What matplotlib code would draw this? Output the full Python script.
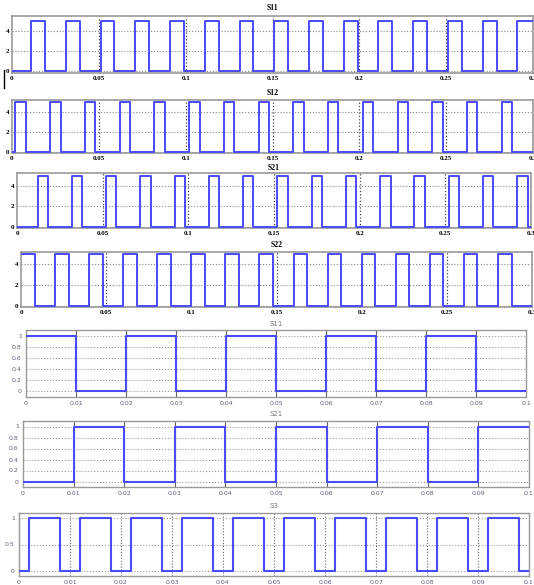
import numpy as np
import matplotlib.pyplot as plt
from matplotlib.lines import Line2D

# switching signals, edge times (s) and levels
s11_t = [0, 0.011, 0.019, 0.031, 0.039, 0.051, 0.059, 0.071, 0.079, 0.091, 0.099,
         0.111, 0.119, 0.131, 0.139, 0.151, 0.159, 0.171, 0.179, 0.191, 0.199,
         0.211, 0.219, 0.231, 0.239, 0.251, 0.259, 0.271, 0.279, 0.291, 0.3]
s11_v = [0, 5, 0, 5, 0, 5, 0, 5, 0, 5, 0, 5, 0, 5, 0, 5, 0, 5, 0, 5, 0,
         5, 0, 5, 0, 5, 0, 5, 0, 5, 5]

s12_t = [0, 0.002, 0.008, 0.022, 0.028, 0.042, 0.048, 0.062, 0.068, 0.082, 0.088,
         0.102, 0.108, 0.122, 0.128, 0.142, 0.148, 0.162, 0.168, 0.182, 0.188,
         0.202, 0.208, 0.222, 0.228, 0.242, 0.248, 0.262, 0.268, 0.282, 0.288, 0.3]
s12_v = [0, 5, 0, 5, 0, 5, 0, 5, 0, 5, 0, 5, 0, 5, 0, 5, 0, 5, 0, 5, 0,
         5, 0, 5, 0, 5, 0, 5, 0, 5, 0, 0]

s21_t = [0, 0.012, 0.018, 0.032, 0.038, 0.052, 0.058, 0.072, 0.078, 0.092, 0.098,
         0.112, 0.118, 0.132, 0.138, 0.152, 0.158, 0.172, 0.178, 0.192, 0.198,
         0.212, 0.218, 0.232, 0.238, 0.252, 0.258, 0.272, 0.278, 0.292, 0.298, 0.3]
s21_v = [0, 5, 0, 5, 0, 5, 0, 5, 0, 5, 0, 5, 0, 5, 0, 5, 0, 5, 0, 5, 0,
         5, 0, 5, 0, 5, 0, 5, 0, 5, 0, 0]

s22_t = [0, 0.008, 0.02, 0.028, 0.04, 0.048, 0.06, 0.068, 0.08, 0.088, 0.1,
         0.108, 0.12, 0.128, 0.14, 0.148, 0.16, 0.168, 0.18, 0.188, 0.2,
         0.208, 0.22, 0.228, 0.24, 0.248, 0.26, 0.268, 0.28, 0.288, 0.3]
s22_v = [5, 0, 5, 0, 5, 0, 5, 0, 5, 0, 5, 0, 5, 0, 5, 0, 5, 0, 5, 0, 5,
         0, 5, 0, 5, 0, 5, 0, 5, 0, 0]

# zoomed 0..0.1 s view
s11b_t = [0, 0.01, 0.02, 0.03, 0.04, 0.05, 0.06, 0.07, 0.08, 0.09, 0.1]
s11b_v = [1, 0, 1, 0, 1, 0, 1, 0, 1, 0, 0]
s21b_t = [0, 0.01, 0.02, 0.03, 0.04, 0.05, 0.06, 0.07, 0.08, 0.09, 0.1]
s21b_v = [0, 1, 0, 1, 0, 1, 0, 1, 0, 1, 1]
s3_t = [0, 0.002, 0.008, 0.012, 0.018, 0.022, 0.028, 0.032, 0.038, 0.042, 0.048,
        0.052, 0.058, 0.062, 0.068, 0.072, 0.078, 0.082, 0.088, 0.092, 0.098, 0.1]
s3_v = [0, 1, 0, 1, 0, 1, 0, 1, 0, 1, 0, 1, 0, 1, 0, 1, 0, 1, 0, 1, 0, 0]

top_xticks = [0, 0.05, 0.1, 0.15, 0.2, 0.25, 0.3]
top_xlabels = ['0', '0.05', '0.1', '0.15', '0.2', '0.25', '0.3']
top_yticks = [0, 2, 4]
bot_xticks = [0, 0.01, 0.02, 0.03, 0.04, 0.05, 0.06, 0.07, 0.08, 0.09, 0.1]
bot_xlabels = ['0', '0.01', '0.02', '0.03', '0.04', '0.05', '0.06', '0.07', '0.08', '0.09', '0.1']

W, H = 534, 585
fig = plt.figure(figsize=(W / 100, H / 100), dpi=100)


def box(l, r, t, b):
    return [l / W, 1 - b / H, (r - l) / W, (b - t) / H]


blue = '#4a4aff'

top = [
    ('S11', s11_t, s11_v, (12, 533, 16, 73), (-0.15, 5.45), 8),
    ('S12', s12_t, s12_v, (12, 533, 100, 153), (-0.13, 5.2), 93),
    ('S21', s21_t, s21_v, (17, 531, 173, 228), (-0.13, 5.25), 168),
    ('S22', s22_t, s22_v, (21, 532, 252, 307), (-0.13, 5.2), 245),
]
for name, t, v, pos, yl, ty in top:
    ax = fig.add_axes(box(*pos))
    ax.step(t, v, where='post', color=blue, lw=1.4, zorder=5)
    ax.set_xlim(0, 0.3)
    ax.set_ylim(*yl)
    ax.set_xticks(top_xticks)
    ax.set_xticklabels(top_xlabels)
    ax.set_yticks(top_yticks)
    ax.tick_params(length=0, pad=2, labelsize=5)
    for lab in ax.get_xticklabels() + ax.get_yticklabels():
        lab.set_fontfamily('Liberation Serif')
        lab.set_fontweight('bold')
    ax.grid(axis='y', ls=':', color='#888888', lw=0.8)
    for xv in top_xticks[1:-1]:
        ax.axvline(xv, ls=':', color='#444444', lw=0.9, zorder=2)
    for s in ax.spines.values():
        s.set_color('#999999')
        s.set_linewidth(1.2)
    fig.text((pos[0] + pos[1]) / 2 / W, 1 - ty / H, name, ha='center', va='center',
             fontsize=5.5, fontweight='bold', family='Liberation Serif')

bottom = [
    ('S11', s11b_t, s11b_v, (26, 526, 330, 397), [0, 0.2, 0.4, 0.6, 0.8, 1],
     ['0', '0.2', '0.4', '0.6', '0.8', '1'], 324),
    ('S21', s21b_t, s21b_v, (23, 529, 421, 487), [0, 0.2, 0.4, 0.6, 0.8, 1],
     ['0', '0.2', '0.4', '0.6', '0.8', '1'], 414),
    ('S3', s3_t, s3_v, (19, 529, 513, 576), [0, 0.5, 1], ['0', '0.5', '1'], 506),
]
for name, t, v, pos, yt, ylab, ty in bottom:
    ax = fig.add_axes(box(*pos))
    ax.step(t, v, where='post', color=blue, lw=1.5, zorder=5)
    ax.set_xlim(0, 0.1)
    ax.set_ylim(-0.1, 1.1)
    ax.set_xticks(bot_xticks)
    ax.set_xticklabels(bot_xlabels)
    ax.set_yticks(yt)
    ax.set_yticklabels(ylab)
    ax.tick_params(length=0, pad=3, labelsize=4.5, colors='#6a5a7a')
    ax.grid(axis='y', ls=':', color='#999999', lw=0.8)
    for xv in bot_xticks[1:-1]:
        if name == 'S3':
            ax.axvline(xv, ls=':', color='#666666', lw=0.8, zorder=2)
        else:
            ax.axvline(xv, ls='-', color='#666666', lw=0.8, zorder=2)
    for s in ax.spines.values():
        s.set_color('#999999')
        s.set_linewidth(1.0)
    fig.text((pos[0] + pos[1]) / 2 / W, 1 - ty / H, name, ha='center', va='center',
             fontsize=5, color='#777777')

# small cursor mark at the left edge
fig.add_artist(Line2D([4 / W, 4 / W], [1 - 70 / H, 1 - 88 / H], color='black', lw=1))

fig.savefig('out.png', dpi=100)
